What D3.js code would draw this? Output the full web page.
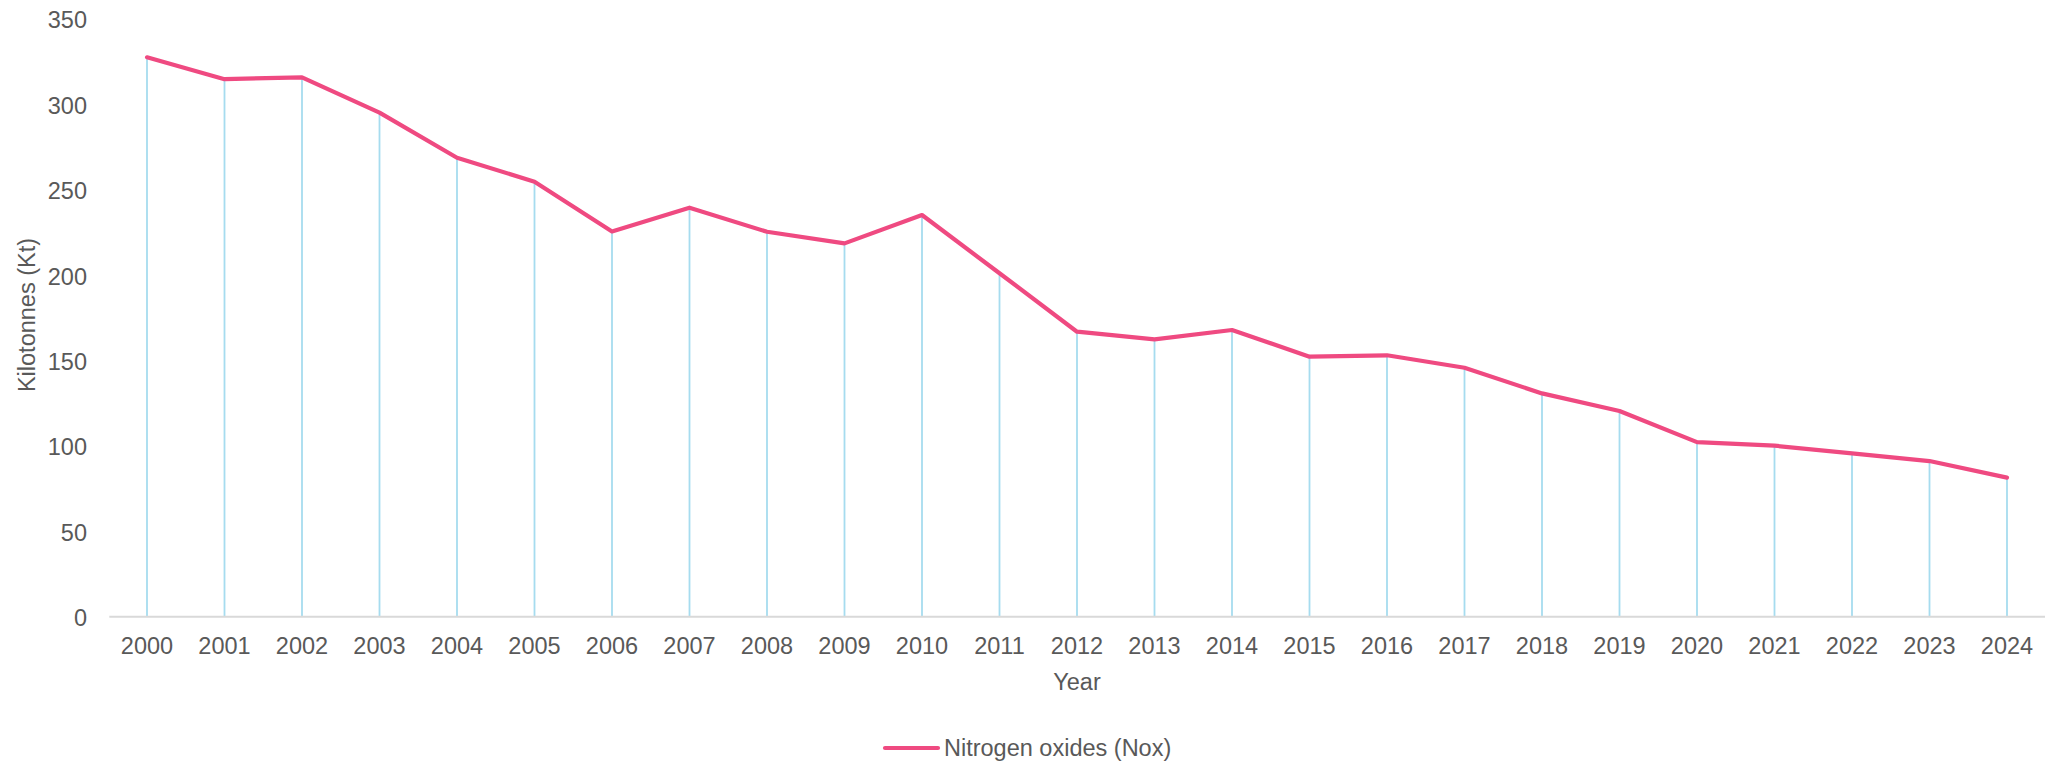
<!DOCTYPE html>
<html>
<head>
<meta charset="utf-8">
<script src="https://cdn.jsdelivr.net/npm/d3@7"></script>
<style>
  html, body { margin: 0; padding: 0; background: #fff; }
  svg { display: block; font-family: "Liberation Sans", Arial, sans-serif; }
</style>
</head>
<body>
<svg id="chart" width="2048" height="764"></svg>
<script>
const years = ["2000","2001","2002","2003","2004","2005","2006","2007","2008","2009","2010","2011","2012","2013","2014","2015","2016","2017","2018","2019","2020","2021","2022","2023","2024"];
const noxValues = [327.4, 314.6, 315.7, 295.0, 268.6, 254.6, 225.5, 239.4, 225.3, 218.5, 235.1, 201.0, 166.8, 162.3, 167.8, 152.2, 153.0, 145.7, 130.7, 120.4, 102.2, 100.1, 95.6, 91.1, 81.4];
const yTicks = [0, 50, 100, 150, 200, 250, 300, 350];
const seriesName = "Nitrogen oxides (Nox)";
const xTitle = "Year";
const yTitle = "Kilotonnes (Kt)";

const svg = d3.select("#chart");
const textColor = "#595959";
const lineColor = "#EF4A81";
const dropColor = "#A6DCEF";
const axisColor = "#D9D9D9";
const fontSize = 23.5;

const x = d3.scaleBand().domain(years).range([108.25, 2045.75]).padding(0);
const y = d3.scaleLinear().domain([0, 350]).range([616.7, 18.7]);
const cx = d => x(d) + x.bandwidth() / 2;

// Y axis labels
const yAxis = d3.axisLeft(y).tickValues(yTicks).tickSize(0).tickPadding(0);
const yg = svg.append("g").attr("transform", "translate(87,1.5)").call(yAxis);
yg.select(".domain").remove();
yg.selectAll("text").attr("fill", textColor).style("font-size", fontSize + "px").style("font-family", "'Liberation Sans', Arial, sans-serif");

// Drop lines
svg.append("g").selectAll("line").data(years).join("line")
  .attr("x1", d => cx(d)).attr("x2", d => cx(d))
  .attr("y1", (d, i) => y(noxValues[i])).attr("y2", y(0))
  .attr("stroke", dropColor).attr("stroke-width", 1.8);

// X axis
const xAxis = d3.axisBottom(x).tickSize(0).tickPadding(0);
const xg = svg.append("g").attr("transform", `translate(0,${y(0)})`).call(xAxis);
xg.select(".domain").attr("stroke", axisColor).attr("stroke-width", 2)
  .attr("d", `M109.3,0H2045`);
xg.selectAll("text").attr("fill", textColor).attr("y", 30).attr("dy", "0.32em")
  .style("font-size", fontSize + "px").style("font-family", "'Liberation Sans', Arial, sans-serif");

// Line
const line = d3.line().x((d, i) => cx(years[i])).y(d => y(d));
svg.append("path").datum(noxValues)
  .attr("d", line).attr("fill", "none")
  .attr("stroke", lineColor).attr("stroke-width", 4.2)
  .attr("stroke-linejoin", "round").attr("stroke-linecap", "round");

// Axis titles
svg.append("text").attr("x", 1077).attr("y", 682).attr("dy", "0.35em")
  .attr("text-anchor", "middle").attr("fill", textColor)
  .style("font-size", fontSize + "px").text(xTitle);

svg.append("text").attr("transform", "translate(27,315) rotate(-90)").attr("dy", "0.35em")
  .attr("text-anchor", "middle").attr("fill", textColor)
  .style("font-size", fontSize + "px").text(yTitle);

// Legend
const lg = svg.append("g");
lg.append("line").attr("x1", 885).attr("x2", 938).attr("y1", 748).attr("y2", 748)
  .attr("stroke", lineColor).attr("stroke-width", 4.2).attr("stroke-linecap", "round");
lg.append("text").attr("x", 944).attr("y", 748).attr("dy", "0.35em")
  .attr("fill", textColor).style("font-size", fontSize + "px").text(seriesName);
</script>
</body>
</html>
